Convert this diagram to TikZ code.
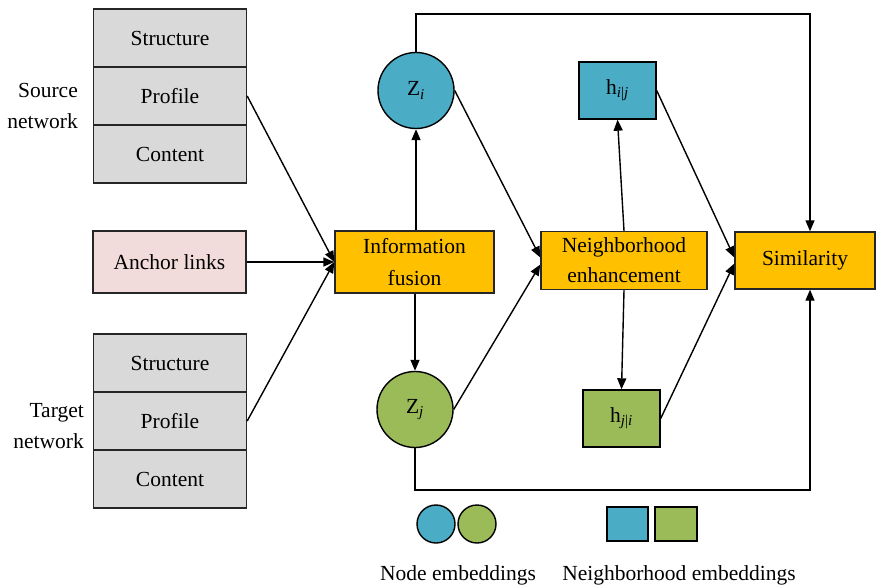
\documentclass[tikz,border=0pt]{standalone}
\usepackage{fontspec}
\setmainfont{Liberation Serif}
\usetikzlibrary{arrows.meta,calc}
\definecolor{embblue}{HTML}{4BACC6}
\definecolor{embgreen}{HTML}{9BBB59}
\definecolor{procorange}{HTML}{FFC000}
\definecolor{featgray}{HTML}{D9D9D9}
\definecolor{linkpink}{HTML}{F2DCDB}
\definecolor{edge}{HTML}{262626}
\begin{document}
\begin{tikzpicture}[x=1pt,y=-1pt,
  every node/.style={font=\fontsize{21.5}{31}\selectfont, inner sep=0pt, text=black},
  box/.style={draw=edge, line width=1.4pt, minimum width=#1, rectangle},
  feat/.style={box=153pt, fill=featgray, minimum height=58pt},
  proc/.style={box=#1, fill=procorange, align=center},
  emb/.style={circle, draw=black, line width=1.4pt, minimum size=76pt},
  nbr/.style={draw=black, line width=1.4pt, minimum width=77pt, minimum height=57pt},
  link/.style={line width=1.4pt, -{Triangle[length=11pt,width=9pt]}},
  legendmark/.style={draw=black, line width=1.4pt}
]
\useasboundingbox (0,0) rectangle (877,588);

% source network attributes
\node[feat] (s1) at (170,38) {Structure};
\node[feat] (s2) at (170,96) {Profile};
\node[feat] (s3) at (170,154) {Content};
\node[align=right, anchor=east] (slab) at (78,106) {Source\\network};

% target network attributes
\node[feat] (t1) at (170,363) {Structure};
\node[feat] (t2) at (170,421) {Profile};
\node[feat] (t3) at (170,479) {Content};
\node[align=right, anchor=east] (tlab) at (84,426) {Target\\network};

% anchor links
\node[box=153pt, fill=linkpink, minimum height=62pt] (anchor) at (169.5,262) {Anchor links};

% processing blocks
\node[proc=159pt, minimum height=62pt, font=\fontsize{21.5}{32}\selectfont] (fusion) at (414.5,262) {Information\\fusion};
\node[proc=166pt, minimum height=58pt, font=\fontsize{21.5}{30}\selectfont] (ne) at (624,260.5) {Neighborhood\\enhancement};
\node[proc=140pt, minimum height=57pt] (sim) at (805,260.5) {Similarity};

% node embeddings
\node[emb, fill=embblue] (zi) at (416,90.5) {Z\textsubscript{\textit{i}}};
\node[emb, fill=embgreen] (zj) at (415,409.5) {Z\textsubscript{\textit{j}}};

% neighborhood embeddings
\node[nbr, fill=embblue] (hij) at (617.5,90.5) {h\textsubscript{\textit{i}|\textit{j}}};
\node[nbr, fill=embgreen] (hji) at (621.5,418.5) {h\textsubscript{\textit{j}|\textit{i}}};

% bends of the skip connections
\coordinate (ztop) at (416,14);
\coordinate (stop) at (810,14);
\coordinate (zbot) at (415,490);
\coordinate (sbot) at (810,490);

% inputs to information fusion
\draw[link] (s2.east) -- (fusion.west);
\draw[link] (anchor.east) -- (fusion.west);
\draw[link] (t2.east) -- (fusion.west);

% fusion to embeddings
\draw[link] (zi.south |- fusion.north) -- (zi.south);
\draw[link] (zj.north |- fusion.south) -- (zj.north);

% embeddings to neighborhood enhancement
\draw[link] (zi.east) -- ($(ne.west)+(0,-3)$);
\draw[link] (zj.east) -- ($(ne.west)+(0,4)$);

% neighborhood enhancement outputs
\draw[link] (ne.north) -- (hij.south);
\draw[link] (ne.south) -- (hji.north);

% to similarity
\draw[link] (hij.east) -- ($(sim.west)+(0,-3)$);
\draw[link] (hji.east) -- ($(sim.west)+(0,3)$);
\draw[link] (zi.north) -- (ztop) -- (stop) -- (stop |- sim.north);
\draw[link] (zj.south) -- (zbot) -- (sbot) -- (sbot |- sim.south);

% legend
\node[legendmark, circle, fill=embblue, minimum size=38pt] (lzi) at (436,524) {};
\node[legendmark, circle, fill=embgreen, minimum size=38pt] (lzj) at (477,524) {};
\node[legendmark, fill=embblue, minimum width=41pt, minimum height=34pt] (lhi) at (627.5,524) {};
\node[legendmark, fill=embgreen, minimum width=42pt, minimum height=34pt] (lhj) at (676,524) {};
\node (lnode) at (458,575) {Node embeddings};
\node (lnbr) at (679,575) {Neighborhood embeddings};
\end{tikzpicture}
\end{document}
